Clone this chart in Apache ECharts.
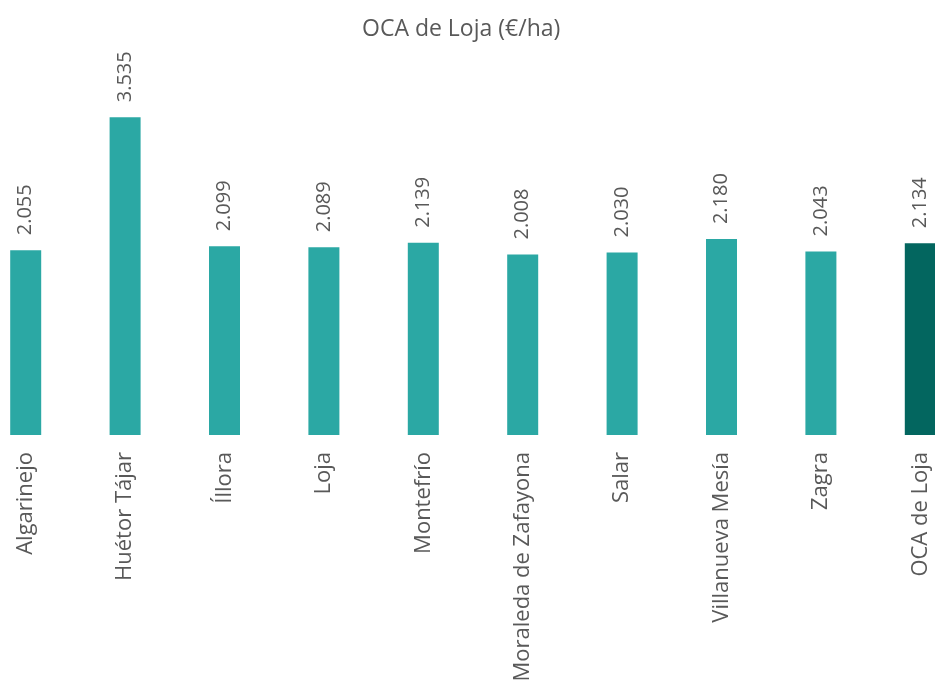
<!DOCTYPE html>
<html>
<head>
<meta charset="utf-8">
<title>OCA de Loja (€/ha)</title>
<script src="https://cdn.jsdelivr.net/npm/echarts@6/dist/echarts.min.js"></script>
<style>
  html, body { margin: 0; padding: 0; background: #fff; }
  #chart { width: 935px; height: 681px; }
</style>
</head>
<body>
<div id="chart"></div>
<script>
const categories = ['Algarinejo', 'Huétor Tájar', 'Íllora', 'Loja', 'Montefrío',
	'Moraleda de Zafayona', 'Salar', 'Villanueva Mesía', 'Zagra', 'OCA de Loja'];
const values = [2055, 3535, 2099, 2089, 2139, 2008, 2030, 2180, 2043, 2134];
const highlight = 'OCA de Loja';

const BAR = '#2ba8a4';
const BAR_DARK = '#03665f';
const TEXT = '#595959';
const FONT = '"Open Sans", "Liberation Sans", sans-serif';

function fmt(v) {
	return String(v).replace(/\B(?=(\d{3})+(?!\d))/g, '.');
}

const chart = echarts.init(document.getElementById('chart'));

chart.setOption({
	animation: false,
	title: {
		text: 'OCA de Loja (€/ha)',
		left: 357,
		top: 13,
		textStyle: { fontFamily: FONT, fontSize: 23, fontWeight: 'normal', color: TEXT }
	},
	// plot area runs past both edges: the chart is cropped in the original
	grid: {
		left: -24,
		right: -35,
		top: 75.5,
		bottom: 246,
		outerBoundsMode: 'none',
		containLabel: false
	},
	xAxis: {
		type: 'category',
		data: categories,
		axisLine: { show: false },
		axisTick: { show: false },
		axisLabel: {
			rotate: 90,
			interval: 0,
			margin: 17,
			fontFamily: FONT,
			fontSize: 22,
			color: TEXT
		}
	},
	yAxis: {
		type: 'value',
		min: 0,
		max: 4000,
		show: false
	},
	series: [{
		type: 'bar',
		barWidth: 31,
		data: values.map((v, i) => ({
			value: v,
			itemStyle: { color: categories[i] === highlight ? BAR_DARK : BAR }
		})),
		label: {
			show: true,
			position: 'top',
			rotate: 90,
			align: 'left',
			verticalAlign: 'middle',
			distance: 15,
			fontFamily: FONT,
			fontSize: 20,
			color: TEXT,
			formatter: p => fmt(p.value)
		}
	}]
});
</script>
</body>
</html>
